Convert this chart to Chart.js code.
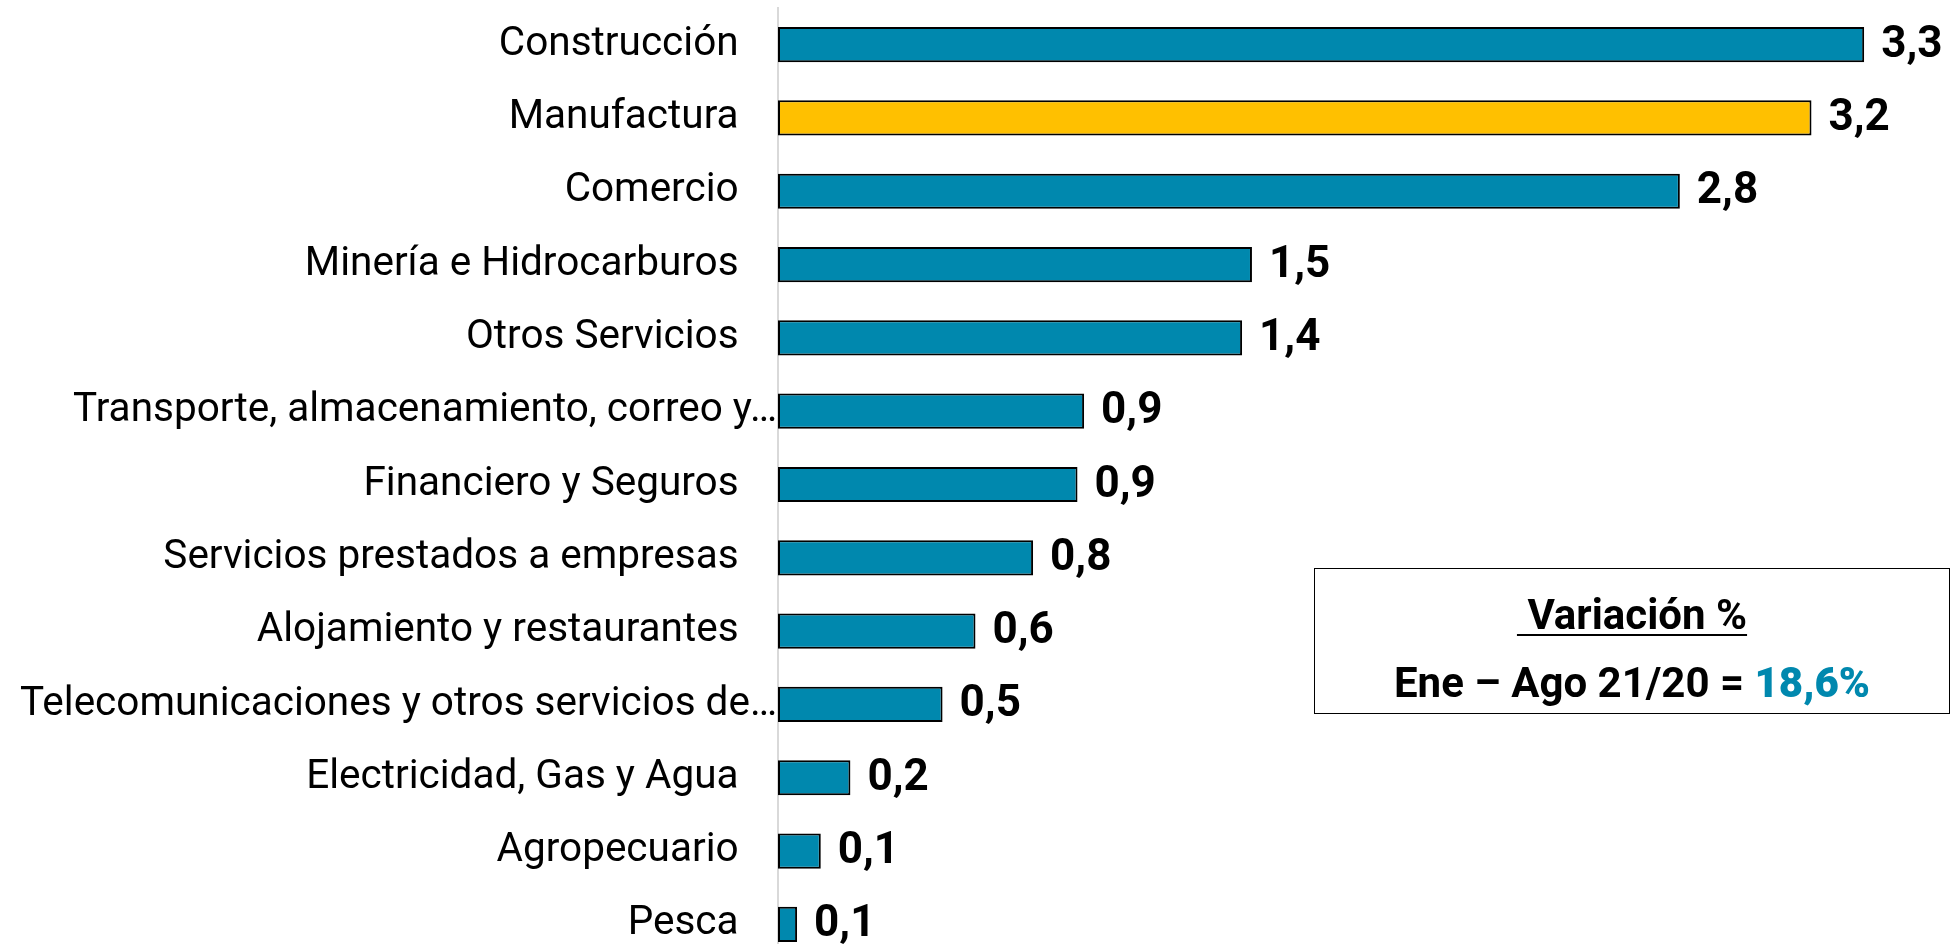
<!DOCTYPE html>
<html>
<head>
<meta charset="utf-8">
<script src="https://cdn.jsdelivr.net/npm/chart.js@4/dist/chart.umd.min.js"></script>
<style>
  html, body { margin: 0; padding: 0; background: #fff; overflow: hidden; }
  #wrap { position: relative; width: 1957px; height: 961px; }
  #note {
    position: absolute; left: 1314px; top: 568px; width: 634px; height: 144px;
    border: 1.5px solid #000; box-sizing: content-box;
    font-family: Roboto, sans-serif; font-weight: bold; font-size: 42px; color: #000;
    text-align: center;
  }
  #note .l1 { position: absolute; left: 0; right: 0; top: 21px; line-height: 50px; }
  #note .l1 span { text-decoration: underline; text-decoration-thickness: 2px; text-underline-offset: 5px; white-space: pre; }
  #note .l2 { position: absolute; left: 0; right: 0; top: 89px; line-height: 50px; }
  #note .l2 b { color: #0088AE; }
</style>
</head>
<body>
<div id="wrap">
  <canvas id="sectorChart"></canvas>
  <div id="note">
    <div class="l1"><span> Variación %</span></div>
    <div class="l2">Ene – Ago 21/20 = <b>18,6%</b></div>
  </div>
</div>
<script>
// sectors, top to bottom
const sectors = [
  "Construcción",
  "Manufactura",
  "Comercio",
  "Minería e Hidrocarburos",
  "Otros Servicios",
  "Transporte, almacenamiento, correo y…",
  "Financiero y Seguros",
  "Servicios prestados a empresas",
  "Alojamiento y restaurantes",
  "Telecomunicaciones y otros servicios de…",
  "Electricidad, Gas y Agua",
  "Agropecuario",
  "Pesca"
];

// bar lengths
const contributions = [3.30, 3.14, 2.74, 1.44, 1.41, 0.93, 0.91, 0.775, 0.60, 0.50, 0.22, 0.13, 0.058];

// labels printed next to each bar
const valueLabels = ["3,3", "3,2", "2,8", "1,5", "1,4", "0,9", "0,9", "0,8", "0,6", "0,5", "0,2", "0,1", "0,1"];

const barBlue = "#0088AE";
const barYellow = "#FFC000";
const barColors = sectors.map(s => s === "Manufactura" ? barYellow : barBlue);

// draws the value next to the end of each bar
const valueLabelPlugin = {
  id: "valueLabels",
  afterDatasetsDraw(chart) {
    const ctx = chart.ctx;
    const meta = chart.getDatasetMeta(0);
    ctx.save();
    ctx.font = "bold 44px Roboto";
    ctx.fillStyle = "#000";
    ctx.textAlign = "left";
    ctx.textBaseline = "middle";
    meta.data.forEach((bar, i) => {
      ctx.fillText(valueLabels[i], bar.x + 17, bar.y + 1);
    });
    ctx.restore();
  }
};

const ctx = document.getElementById("sectorChart").getContext("2d");
new Chart(ctx, {
  type: "bar",
  data: {
    labels: sectors,
    datasets: [{
      data: contributions,
      backgroundColor: barColors,
      borderColor: "#000",
      borderWidth: 2,
      borderSkipped: false,
      barPercentage: 0.48,
      categoryPercentage: 1
    }]
  },
  options: {
    indexAxis: "y",
    responsive: true,
    maintainAspectRatio: false,
    animation: false,
    layout: { padding: { top: 8, right: 27, bottom: 0, left: 0 } },
    plugins: { legend: { display: false }, tooltip: { enabled: false } },
    scales: {
      x: { display: false, min: 0, max: 3.5 },
      y: {
        // fixed axis position, no extra room for the label halves
        afterFit: s => { s.width = 778; s.paddingTop = 0; s.paddingBottom = 0; },
        grid: { display: false, drawTicks: false },
        border: { display: true, color: "#d9d9d9", width: 2 },
        ticks: {
          padding: 1,
          color: "#000",
          font: { family: "Roboto", size: 40.5 },
          callback: function (v) {
            const t = this.getLabelForValue(v);
            return t.endsWith("…") ? t : t + "   \u2009";
          }
        }
      }
    }
  },
  plugins: [valueLabelPlugin]
});
</script>
</body>
</html>
